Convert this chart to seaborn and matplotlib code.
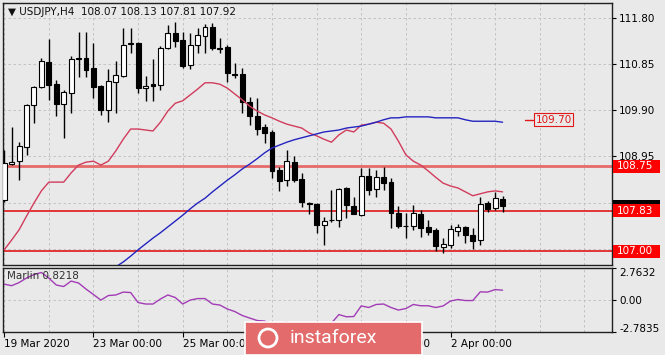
import matplotlib
matplotlib.use("Agg")
import matplotlib.pyplot as plt
import matplotlib.transforms as mtransforms
from matplotlib.patches import Rectangle, Ellipse
import numpy as np
import pandas as pd
import seaborn as sns

# ---- data (USDJPY H4) ----
symbol = "USDJPY,H4"

opens = [108.05, 108.79, 108.85, 109.14, 110.00, 110.37, 110.89, 110.43, 110.02, 110.25,
         110.95, 110.97, 110.76, 110.39, 109.90, 110.48, 110.60, 111.26, 111.28, 110.35,
         110.43, 110.41, 111.17, 111.48, 111.34, 110.82, 111.24, 111.42, 111.60, 111.17,
         111.19, 110.64, 110.64, 110.06, 109.78, 109.55, 109.45, 108.67, 108.46, 108.83,
         108.48, 107.99, 107.97, 107.54, 107.64, 107.64, 108.30, 107.93, 107.74, 108.55,
         108.28, 108.53, 108.42, 107.79, 107.52, 107.52, 107.77, 107.50, 107.44, 107.09,
         107.13, 107.42, 107.50, 107.33, 107.23, 107.99, 107.89, 108.07]
highs = [109.08, 109.55, 109.24, 110.02, 110.39, 110.97, 111.36, 110.52, 110.31, 111.01,
         111.50, 111.50, 111.28, 110.41, 110.74, 110.91, 111.58, 111.58, 111.30, 110.60,
         110.95, 111.21, 111.65, 111.71, 111.50, 111.48, 111.58, 111.67, 111.69, 111.38,
         111.24, 110.87, 110.76, 110.17, 110.15, 109.61, 109.49, 108.73, 109.08, 108.96,
         108.61, 108.01, 107.99, 107.70, 108.26, 108.30, 108.31, 108.11, 108.71, 108.71,
         108.67, 108.73, 108.50, 107.93, 107.79, 107.95, 107.85, 107.64, 107.48, 107.27,
         107.54, 107.56, 107.52, 107.48, 108.11, 108.03, 108.22, 108.13]
lows = [108.01, 108.77, 108.46, 108.98, 109.63, 110.35, 110.11, 109.78, 109.33, 109.84,
        110.58, 110.58, 110.15, 109.80, 109.65, 109.84, 110.58, 111.07, 110.25, 110.08,
        110.08, 110.31, 111.15, 111.19, 110.76, 110.74, 111.07, 111.07, 111.13, 111.07,
        110.48, 110.56, 109.84, 109.59, 109.39, 109.22, 108.50, 108.24, 108.34, 108.42,
        107.91, 107.77, 107.37, 107.13, 107.60, 107.50, 107.68, 107.76, 107.72, 108.16,
        108.11, 108.26, 107.48, 107.48, 107.27, 107.44, 107.29, 107.33, 107.00, 106.96,
        107.07, 107.31, 107.17, 107.05, 107.13, 107.81, 107.85, 107.81]
closes = [108.81, 108.83, 109.16, 110.00, 110.37, 110.91, 110.41, 110.02, 110.27, 110.95,
          110.97, 110.72, 110.37, 109.90, 110.50, 110.62, 111.24, 111.28, 110.35, 110.39,
          110.39, 111.17, 111.48, 111.32, 110.80, 111.24, 111.44, 111.60, 111.17, 111.15,
          110.66, 110.62, 110.06, 109.78, 109.51, 109.43, 108.65, 108.44, 108.85, 108.46,
          108.01, 107.98, 107.54, 107.62, 107.65, 108.28, 107.95, 107.77, 108.55, 108.26,
          108.53, 108.40, 107.79, 107.52, 107.51, 107.79, 107.48, 107.40, 107.11, 107.15,
          107.46, 107.50, 107.33, 107.21, 107.97, 107.87, 108.09, 107.92]

red_ma = [107.03, 107.23, 107.44, 107.72, 107.99, 108.24, 108.42, 108.42, 108.42, 108.61,
          108.77, 108.83, 108.85, 108.77, 108.85, 109.06, 109.30, 109.51, 109.51, 109.49,
          109.47, 109.65, 109.88, 110.04, 110.09, 110.21, 110.33, 110.46, 110.46, 110.43,
          110.35, 110.23, 110.11, 109.98, 109.88, 109.80, 109.74, 109.67, 109.61, 109.57,
          109.53, 109.43, 109.37, 109.30, 109.24, 109.39, 109.49, 109.45, 109.59, 109.61,
          109.65, 109.63, 109.51, 109.26, 108.98, 108.85, 108.77, 108.65, 108.52, 108.40,
          108.34, 108.30, 108.22, 108.14, 108.18, 108.22, 108.24, 108.22]

blue_start = 15
blue_ma = [106.68, 106.78, 106.90, 107.03, 107.15, 107.27, 107.38, 107.50, 107.62, 107.74,
           107.87, 107.99, 108.09, 108.22, 108.34, 108.46, 108.57, 108.69, 108.79, 108.90,
           109.02, 109.12, 109.18, 109.24, 109.29, 109.33, 109.37, 109.41, 109.45, 109.47,
           109.49, 109.53, 109.55, 109.57, 109.61, 109.65, 109.70, 109.74, 109.74, 109.76,
           109.76, 109.76, 109.76, 109.74, 109.74, 109.74, 109.74, 109.70, 109.67, 109.67,
           109.67, 109.67, 109.65]

marlin = [1.35, 1.21, 1.48, 1.87, 2.17, 2.35, 1.87, 1.27, 1.14, 1.61,
          1.44, 0.92, 0.45, -0.03, 0.36, 0.41, 0.66, 0.62, -0.24, -0.37,
          -0.37, 0.06, 0.41, 0.19, -0.37, -0.03, 0.10, 0.10, -0.37, -0.46,
          -0.80, -1.02, -1.36, -1.58, -1.79, -1.84, -2.14, -2.01, -1.92, -2.18,
          -2.36, -2.27, -2.44, -2.27, -2.01, -1.28, -1.47, -1.45, -0.53, -0.67,
          -0.41, -0.37, -0.67, -0.89, -0.76, -0.41, -0.52, -0.52, -0.67, -0.54,
          -0.11, 0.02, -0.07, -0.07, 0.68, 0.66, 0.88, 0.8218]

levels = [108.75, 107.83, 107.00]
blue_label = 109.70
price_ticks = [111.80, 110.85, 109.90, 108.95, 108.00, 107.05]
hidden_ticks = [108.00, 107.05]   # covered by the price boxes in the screenshot
marlin_ticks = [2.7632, 0.0, -2.7835]
date_pos = [0, 12, 24, 36, 48, 60]
date_labels = ["19 Mar 2020", "23 Mar 00:00", "25 Mar 00:00",
               "27 Mar 00:00", "31 Mar 00:00", "2 Apr 00:00"]

# ---- style ----
bg = "#e9e9e9"
grid_c = "#bcbcbc"
lvl_red = "#e01818"
sns.set_theme(style="white")
plt.rcParams["font.family"] = ["DejaVu Sans"]
plt.rcParams["font.size"] = 7.5

df = pd.DataFrame({"bar": np.arange(len(opens)), "open": opens, "high": highs,
                   "low": lows, "close": closes, "red": red_ma, "marlin": marlin})
blue_df = pd.DataFrame({"bar": np.arange(blue_start, blue_start + len(blue_ma)), "blue": blue_ma})

W, H = 665, 355
def place(l, t, r, b):
    return [l / W, 1 - b / H, (r - l) / W, (b - t) / H]

fig = plt.figure(figsize=(W / 100, H / 100), dpi=100, facecolor=bg)
ax = fig.add_axes(place(2.7, 3, 612.3, 265))
ax2 = fig.add_axes(place(2.7, 267.7, 612.3, 332), sharex=ax)
for a in (ax, ax2):
    a.set_facecolor(bg)
    for s in a.spines.values():
        s.set_color("#202020")
        s.set_linewidth(1)

# candles
up = df["close"] >= df["open"]
ax.vlines(df["bar"], df["low"], df["high"], color="black", lw=1, zorder=3)
ax.bar(df["bar"][up], (df["close"] - df["open"])[up].clip(lower=0.006), bottom=df["open"][up],
       width=0.66, color="white", edgecolor="black", lw=0.8, zorder=4)
ax.bar(df["bar"][~up], (df["open"] - df["close"])[~up].clip(lower=0.006), bottom=df["close"][~up],
       width=0.66, color="black", edgecolor="black", lw=0.8, zorder=4)

# moving averages
sns.lineplot(data=df, x="bar", y="red", ax=ax, color="#d23c5c", lw=1, legend=False, zorder=5)
sns.lineplot(data=blue_df, x="bar", y="blue", ax=ax, color="#2424c0", lw=1, legend=False, zorder=5)

# horizontal levels
for i, lv in enumerate(levels):
    if i == 0:
        ax.axhline(lv, color="#e66a6a", lw=2, zorder=2)
    else:
        ax.axhline(lv, color=lvl_red, lw=1.2, zorder=2)

ax.set_xlim(-0.2, 81.75)
ax.set_ylim(106.718, 112.098)
ax.set_xlabel("")
ax.set_ylabel("")

ax.yaxis.tick_right()
ax.set_yticks(price_ticks)
ax.set_yticklabels(["" if v in hidden_ticks else f"{v:.2f}" for v in price_ticks])
ax.tick_params(axis="y", right=True, length=3, width=0.8, pad=2, colors="black", labelsize=7.5)
ax.tick_params(axis="x", bottom=False, labelbottom=False)

ax2.set_xticks(date_pos)
ax2.set_xticklabels(date_labels)
ax2.set_xticks([6, 18, 30, 42, 54, 66, 72, 78], minor=True)
ax2.tick_params(axis="x", which="major", bottom=True, length=3.5, width=0.8, pad=1.5,
                colors="black", labelsize=7.5)
ax2.tick_params(axis="x", which="minor", length=0)
for lab in ax2.get_xticklabels():
    lab.set_ha("left")

for a in (ax, ax2):
    a.grid(True, which="both", axis="x", ls=(0, (3, 3)), color=grid_c, lw=0.6)
ax.grid(True, axis="y", ls=(0, (3, 3)), color=grid_c, lw=0.6)
ax2.grid(True, axis="y", ls=(0, (3, 3)), color=grid_c, lw=0.6)

# right-axis price boxes (current price box sits mostly behind the 107.83 box)
tr = mtransforms.blended_transform_factory(ax.transAxes, ax.transData)
hh = 6.5 / 48.7
last_close = closes[-1]
ax.add_patch(Rectangle((1.0012, last_close - hh), 0.0771, 2 * hh, transform=tr,
                       facecolor="black", edgecolor="none", clip_on=False, zorder=6))
for lv in levels:
    ax.add_patch(Rectangle((1.0012, lv - hh), 0.0771, 2 * hh, transform=tr,
                           facecolor="#ff0000", edgecolor="none", clip_on=False, zorder=8))
    ax.text(1.0077, lv, f"{lv:.2f}", transform=tr, color="white",
            va="center", ha="left", fontsize=7.5, zorder=9, clip_on=False)

# blue MA value label
ax.plot([0.857, 0.870], [blue_label, blue_label], transform=tr, color=lvl_red, lw=1, zorder=6)
ax.text(0.9035, blue_label, f"{blue_label:.2f}", transform=tr, color=lvl_red,
        va="center", ha="center", fontsize=7.5, zorder=7,
        bbox=dict(boxstyle="square,pad=0.15", facecolor=bg, edgecolor=lvl_red, lw=0.8))

# header
o, h, l, c = opens[-1], highs[-1], lows[-1], closes[-1]
ax.text(0.008, 0.965, f"\u25bc {symbol}  {o:.2f} {h:.2f} {l:.2f} {c:.2f}",
        transform=ax.transAxes, va="center", ha="left", fontsize=7.5, color="#101010", zorder=10)

# Marlin sub window
sns.lineplot(data=df, x="bar", y="marlin", ax=ax2, color="#a23cb6", lw=1, legend=False)
ax2.set_ylim(marlin_ticks[2], marlin_ticks[0])
ax2.set_xlabel("")
ax2.set_ylabel("")
ax2.yaxis.tick_right()
ax2.set_yticks(marlin_ticks)
ax2.set_yticklabels([f"{v:.4f}" if v != 0 else "0.00" for v in marlin_ticks])
ax2.tick_params(axis="y", right=True, length=3, width=0.8, pad=2, colors="black", labelsize=7.5)
ylabs = ax2.get_yticklabels()
shift = [-4.0, 0.0, 4.0]
for lab, dy in zip(ylabs, shift):
    lab.set_transform(lab.get_transform() +
                      mtransforms.ScaledTranslation(0, dy / 100, fig.dpi_scale_trans))
ax2.text(0.007, 0.95, f"Marlin {marlin[-1]:.4f}", transform=ax2.transAxes,
         va="top", ha="left", fontsize=7.5, color="#303030")

# watermark
fig.patches.append(Rectangle((245 / W, 0), 177 / W, 33 / H, transform=fig.transFigure,
                             facecolor="#e36b6b", edgecolor="white", lw=1.2, zorder=20))
fig.patches.append(Ellipse((268 / W, 1 - 338 / H), 18 / W, 18 / H, transform=fig.transFigure,
                           facecolor="none", edgecolor="white", lw=2, zorder=21))
fig.text(290 / W, 1 - 338 / H, "instaforex", color="white", fontsize=14,
         family=["Roboto", "DejaVu Sans"], va="center", ha="left", zorder=22)

fig.savefig("out.png", dpi=100, facecolor=bg)
